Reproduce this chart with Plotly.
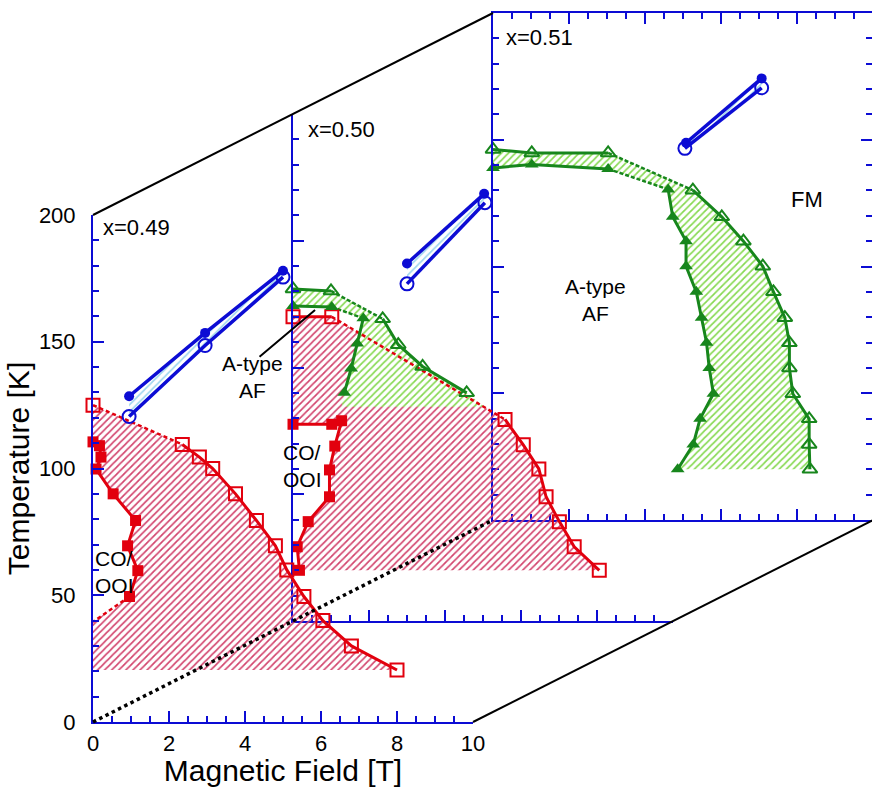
import plotly.graph_objects as go

# ---------------------------------------------------------------------------
# Phase-diagram data, magnetic field H [T] vs temperature T [K]
# fm_up / fm_dn : FM transition on field sweep up / down (blue)
# co_up / co_dn : CO/OOI melting on field sweep up / down (red)
# af_up / af_dn : A-type AF boundary on field sweep up / down (green)
# ---------------------------------------------------------------------------

# x = 0.49
h49_fm_up = [0.95, 2.95, 5.0]
t49_fm_up = [128.5, 153.5, 178.0]
h49_fm_dn = [0.95, 2.95, 5.0]
t49_fm_dn = [120.5, 148.5, 175.5]
h49_co_up = [0.0, 2.35, 2.8, 3.15, 3.75, 4.3, 4.8, 5.1, 5.55, 6.05, 6.8, 8.0]
t49_co_up = [125.0, 109.5, 104.5, 100.0, 90.0, 79.5, 69.5, 60.0, 49.5, 40.0, 30.0, 20.5]
h49_co_dn = [0.0, 0.17, 0.21, 0.08, 0.53, 1.12, 0.91, 1.18, 0.96]
t49_co_dn = [110.5, 109.0, 104.5, 99.8, 90.0, 79.5, 69.5, 59.7, 49.5]
h49_co_dn_ext = [0.96, 0.0]
t49_co_dn_ext = [49.5, 39.5]

# x = 0.50
h50_fm_up = [3.0, 5.03]
t50_fm_up = [141.0, 168.5]
h50_fm_dn = [3.0, 5.05]
t50_fm_dn = [133.0, 165.0]
h50_af_up = [0.0, 1.0, 2.36, 2.77, 3.41, 4.57]
t50_af_up = [131.0, 130.2, 119.2, 109.0, 100.4, 90.0]
h50_af_dn = [0.0, 1.02, 1.85, 1.69, 1.53, 1.35]
t50_af_dn = [124.3, 123.9, 119.4, 109.5, 99.6, 90.0]
h50_af_floor = [5.04, 1.28]
t50_af_floor = [84.5, 84.5]
h50_co_up = [0.0, 1.02, 5.58, 6.06, 6.47, 6.66, 7.01, 7.4, 8.06]
t50_co_up = [120.0, 120.0, 79.5, 69.5, 60.0, 49.0, 39.2, 29.3, 20.0]
h50_co_dn = [0.0, 1.02, 1.28, 1.1, 0.96, 0.96, 0.4, 0.11, 0.17]
t50_co_dn = [77.6, 77.6, 79.0, 69.0, 59.6, 49.0, 39.2, 29.3, 20.0]

# x = 0.51
h51_fm_up = [5.08, 7.07]
t51_fm_up = [148.8, 174.2]
h51_fm_dn = [5.05, 7.07]
t51_fm_dn = [146.6, 170.5]
h51_af_up = [0.0, 1.02, 3.03, 5.26, 6.02, 6.59, 7.1, 7.38, 7.68, 7.8, 7.8, 7.89, 8.32, 8.32, 8.34]
t51_af_up = [146.2, 144.8, 144.8, 130.1, 119.6, 110.0, 100.1, 90.0, 79.8, 69.9, 60.0, 49.8, 39.9, 29.8, 20.0]
h51_af_dn = [0.0, 1.02, 3.03, 4.61, 4.73, 5.08, 5.08, 5.35, 5.49, 5.62, 5.69, 5.8, 5.45, 5.27, 4.86]
t51_af_dn = [138.9, 140.2, 138.5, 130.4, 119.6, 110.0, 100.1, 90.0, 79.8, 69.9, 60.0, 49.8, 39.9, 29.8, 20.0]

compositions = ["x=0.49", "x=0.50", "x=0.51"]
h_max, t_max = 10, 200

# ---------------------------------------------------------------------------
# Layout geometry: three stacked panels offset in depth
# ---------------------------------------------------------------------------
FIG_W, FIG_H = 872, 787
PANEL_W, PANEL_H = 380, 507
FRONT_LEFT, FRONT_BOTTOM = 93, 722
STEP_X, STEP_Y = 200, 101

BLUE = "#0c0cd4"
RED = "#e2000e"
GREEN = "#17861c"
FONT = "Liberation Sans, Arial, Helvetica, sans-serif"

# depth 0 = front (x3/y3), 1 = middle (x2/y2), 2 = back (x/y)
AXES = {0: ("x3", "y3"), 1: ("x2", "y2"), 2: ("x", "y")}


def corner(depth, cx, cy):
    px = FRONT_LEFT + depth * STEP_X + cx * PANEL_W
    py = FRONT_BOTTOM - depth * STEP_Y - cy * PANEL_H
    return px / FIG_W, (FIG_H - py) / FIG_H


def axis_layout(depth):
    x0, y0 = corner(depth, 0, 0)
    x1, y1 = corner(depth, 1, 1)
    frac = min(1.0, (1.0 - x0) / (x1 - x0))
    labelled = depth == 0
    mirror = "ticks" if depth == 2 else False
    xa_id, ya_id = AXES[depth]
    common = dict(
        showline=True, linecolor=BLUE, linewidth=2, ticks="inside",
        tickcolor=BLUE, tickwidth=2, ticklen=11, showgrid=False,
        zeroline=False, mirror=mirror, showticklabels=labelled,
        tickfont=dict(size=22, color="black", family=FONT),
        automargin=False, fixedrange=True, layer="above traces",
    )
    xa = dict(common, domain=[x0, min(x1, 1.0)], range=[0, h_max * frac],
              tick0=0, dtick=2, anchor=ya_id,
              minor=dict(ticks="inside", dtick=0.5, ticklen=6, tickwidth=2,
                         tickcolor=BLUE, showgrid=False),
              ticklabelstandoff=1)
    ya = dict(common, domain=[y0, y1], range=[0, t_max], tick0=0, dtick=50,
              anchor=xa_id,
              minor=dict(ticks="inside", dtick=10, ticklen=6, tickwidth=2,
                         tickcolor=BLUE, showgrid=False),
              ticklabelstandoff=11)
    if labelled:
        xa["title"] = dict(text="Magnetic Field [T]", standoff=15,
                           font=dict(size=30, color="black", family=FONT))
        ya["title"] = dict(text="Temperature [K]", standoff=0,
                           font=dict(size=30, color="black", family=FONT))
    return xa, ya


fig = go.Figure()


def fill_region(depth, h, t, fg, bg):
    xa, ya = AXES[depth]
    fig.add_trace(go.Scatter(
        x=h, y=t, xaxis=xa, yaxis=ya, mode="none", fill="toself",
        fillcolor=fg,
        fillpattern=dict(shape="/", fgcolor=fg, bgcolor=bg, size=5,
                         solidity=0.34, fillmode="replace"),
        showlegend=False, hoverinfo="skip"))


def boundary_lines(depth, h, t, color, dashed=(), dash="4px,3px", width=3):
    xa, ya = AXES[depth]
    pieces, start = [], 0
    for seg in sorted(dashed):
        if seg > start:
            pieces.append((h[start:seg + 1], t[start:seg + 1], "solid"))
        pieces.append((h[seg:seg + 2], t[seg:seg + 2], dash))
        start = seg + 1
    if start < len(h) - 1:
        pieces.append((h[start:], t[start:], "solid"))
    for ph, pt, d in pieces:
        fig.add_trace(go.Scatter(
            x=ph, y=pt, xaxis=xa, yaxis=ya, mode="lines",
            line=dict(color=color, width=width if d == "solid" else 2.5, dash=d),
            showlegend=False, hoverinfo="skip"))


markers = []


def boundary_markers(depth, h, t, color, symbol, size):
    markers.append((depth, h, t, color, symbol, size))


RED_HATCH, GREEN_HATCH, BLUE_HATCH = "#d2456e", "#86d951", "#9ed6ee"

# ---- hatched regions --------------------------------------------------------
# x = 0.49 : CO/OOI melting hysteresis
fill_region(0,
            [0.0] + h49_co_dn_ext[::-1][:-1] + h49_co_dn[::-1] + h49_co_up + [h49_co_dn_ext[-1]],
            [t49_co_up[-1]] + t49_co_dn_ext[::-1][:-1] + t49_co_dn[::-1] + t49_co_up + [t49_co_up[-1]],
            RED_HATCH, "rgba(255,255,255,0)")
fill_region(0, h49_fm_up + h49_fm_dn[::-1], t49_fm_up + t49_fm_dn[::-1],
            BLUE_HATCH, "rgba(255,255,255,0)")

# x = 0.50
fill_region(1, h50_co_dn[::-1] + h50_co_up, t50_co_dn[::-1] + t50_co_up,
            RED_HATCH, "rgba(255,255,255,0)")
fill_region(1, h50_af_up + h50_af_floor + h50_af_dn[::-1],
            t50_af_up + t50_af_floor + t50_af_dn[::-1],
            GREEN_HATCH, "white")
fill_region(1, h50_fm_up + h50_fm_dn[::-1], t50_fm_up + t50_fm_dn[::-1],
            BLUE_HATCH, "rgba(255,255,255,0)")

# x = 0.51
fill_region(2, h51_af_up + h51_af_dn[::-1], t51_af_up + t51_af_dn[::-1],
            GREEN_HATCH, "white")
fill_region(2, h51_fm_up + h51_fm_dn[::-1], t51_fm_up + t51_fm_dn[::-1],
            BLUE_HATCH, "rgba(255,255,255,0)")

# ---- boundary lines ---------------------------------------------------------
boundary_lines(0, h49_co_up, t49_co_up, RED, dashed=[0])
boundary_lines(0, h49_co_dn, t49_co_dn, RED)
boundary_lines(0, h49_co_dn_ext, t49_co_dn_ext, RED, dashed=[0])
boundary_lines(0, h49_fm_up, t49_fm_up, BLUE, width=3.5)
boundary_lines(0, h49_fm_dn, t49_fm_dn, BLUE, width=3.5)

boundary_lines(1, h50_co_up, t50_co_up, RED, dashed=[1])
boundary_lines(1, h50_co_dn, t50_co_dn, RED)
boundary_lines(1, h50_af_up, t50_af_up, GREEN, dashed=[1], dash="4px,2px")
boundary_lines(1, h50_af_dn, t50_af_dn, GREEN, dashed=[1], dash="4px,2px")
boundary_lines(1, h50_fm_up, t50_fm_up, BLUE, width=3.5)
boundary_lines(1, h50_fm_dn, t50_fm_dn, BLUE, width=3.5)

boundary_lines(2, h51_af_up, t51_af_up, GREEN, dashed=[2], dash="4px,2px")
boundary_lines(2, h51_af_dn, t51_af_dn, GREEN, dashed=[2], dash="4px,2px")
boundary_lines(2, h51_fm_up, t51_fm_up, BLUE, width=3.5)
boundary_lines(2, h51_fm_dn, t51_fm_dn, BLUE, width=3.5)

# ---- symbols ----------------------------------------------------------------
boundary_markers(0, h49_co_up, t49_co_up, RED, "square-open", 13)
boundary_markers(0, h49_co_dn, t49_co_dn, RED, "square", 11)
boundary_markers(0, h49_fm_up, t49_fm_up, BLUE, "circle", 10)
boundary_markers(0, h49_fm_dn, t49_fm_dn, BLUE, "circle-open", 13)

boundary_markers(1, h50_co_up, t50_co_up, RED, "square-open", 13)
boundary_markers(1, h50_co_dn, t50_co_dn, RED, "square", 11)
boundary_markers(1, h50_af_up, t50_af_up, GREEN, "triangle-up-open", 13)
boundary_markers(1, h50_af_dn, t50_af_dn, GREEN, "triangle-up", 12)
boundary_markers(1, h50_fm_up, t50_fm_up, BLUE, "circle", 10)
boundary_markers(1, h50_fm_dn, t50_fm_dn, BLUE, "circle-open", 13)

boundary_markers(2, h51_af_up, t51_af_up, GREEN, "triangle-up-open", 13)
boundary_markers(2, h51_af_dn, t51_af_dn, GREEN, "triangle-up", 12)
boundary_markers(2, h51_fm_up, t51_fm_up, BLUE, "circle", 10)
boundary_markers(2, h51_fm_dn, t51_fm_dn, BLUE, "circle-open", 13)

for depth, h, t, color, symbol, size in markers:
    xa, ya = AXES[depth]
    fig.add_trace(go.Scatter(
        x=h, y=t, xaxis=xa, yaxis=ya, mode="markers",
        marker=dict(symbol=symbol, size=size, color=color,
                    line=dict(color=color, width=2 if "open" in symbol else 0)),
        cliponaxis=False, showlegend=False, hoverinfo="skip"))

# ---- axes -------------------------------------------------------------------
layout_axes = {}
for depth in (0, 1, 2):
    xa, ya = axis_layout(depth)
    xa_id, ya_id = AXES[depth]
    layout_axes["xaxis" + xa_id[1:]] = xa
    layout_axes["yaxis" + ya_id[1:]] = ya

# ---- depth frame ------------------------------------------------------------
shapes = []
for (a, b, style) in [((0, 0, 1), (2, 0, 1), dict(color="black", width=2)),
                      ((0, 1, 0), (2, 1, 0), dict(color="black", width=2)),
                      ((0, 0, 0), (2, 0, 0), dict(color="black", width=3.5, dash="dot"))]:
    xa0, ya0 = corner(*a)
    xb0, yb0 = corner(*b)
    shapes.append(dict(type="line", xref="paper", yref="paper",
                       x0=xa0, y0=ya0, x1=xb0, y1=yb0, line=style, layer="above"))

# ---- labels -----------------------------------------------------------------
def label(depth, text, h, t, anchor="center", size=22):
    xa, ya = AXES[depth]
    return dict(text=text, x=h, y=t, xref=xa, yref=ya, showarrow=False,
                xanchor=anchor, yanchor="middle", align=anchor,
                borderpad=0, font=dict(size=size, color="black", family=FONT))


annotations = [
    label(0, compositions[0], 0.24, 194.9, "left"),
    label(1, compositions[1], 0.36, 193.7, "left"),
    label(2, compositions[2], 0.32, 190.2, "left"),
    label(0, "CO/<br>OOI", 0.03, 59.0, "left", size=21),
    # labels of the x=0.50 panel that sit left of its axis, placed on the front grid
    label(0, "CO/<br>OOI", 4.98, 101.0, "left", size=21),
    label(0, "A-type<br>AF", 4.2, 135.9, size=21),
    label(2, "A-type<br>AF", 2.7, 86.6, size=21),
    label(2, "FM", 8.26, 126.4),
    dict(text="", x=0.58, y=122.7, xref="x2", yref="y2",
         ax=-0.92, ay=103.7, axref="x2", ayref="y2", showarrow=True,
         arrowhead=0, arrowwidth=2, arrowcolor="black", standoff=0,
         startstandoff=0),
]

fig.update_layout(
    width=FIG_W, height=FIG_H,
    margin=dict(l=0, r=0, t=0, b=0, pad=0),
    template="none",
    paper_bgcolor="white",
    plot_bgcolor="rgba(0,0,0,0)",
    showlegend=False,
    shapes=shapes,
    annotations=annotations,
    font=dict(family=FONT, color="black"),
    **layout_axes,
)

fig.write_html("out.html")
